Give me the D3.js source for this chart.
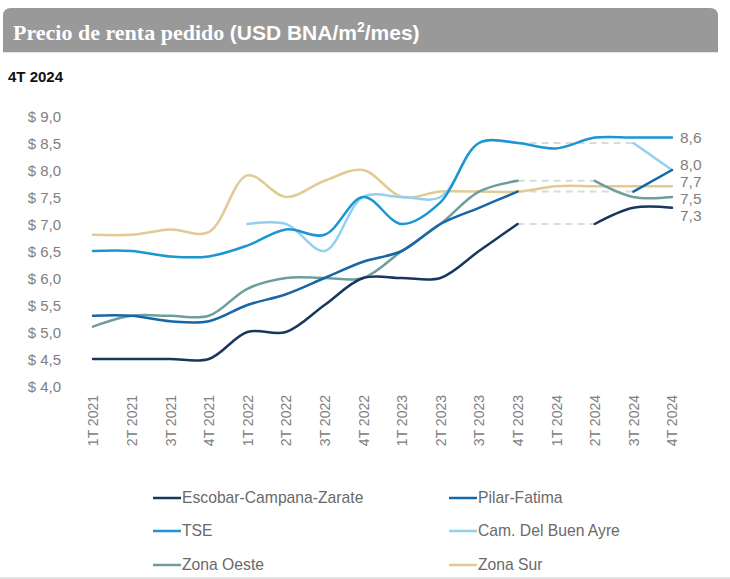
<!DOCTYPE html>
<html><head><meta charset="utf-8">
<script src="https://cdn.jsdelivr.net/npm/d3@7"></script>
<style>
body{margin:0;background:#fff;}
svg{display:block;font-family:"Liberation Sans",Arial,sans-serif;}
</style></head>
<body>
<svg id="chart" width="730" height="579"></svg>
<script>
const categories = ["1T 2021","2T 2021","3T 2021","4T 2021","1T 2022","2T 2022","3T 2022","4T 2022","1T 2023","2T 2023","3T 2023","4T 2023","1T 2024","2T 2024","3T 2024","4T 2024"];
const seriesNames = ["Escobar-Campana-Zarate","Pilar-Fatima","TSE","Cam. Del Buen Ayre","Zona Oeste","Zona Sur"];
const escobar = [4.5,4.5,4.5,4.5,5.0,5.0,5.5,6.0,6.0,6.0,6.5,7.0,null,7.0,7.3,7.3];
const pilar   = [5.3,5.3,5.2,5.2,5.5,5.7,6.0,6.3,6.5,7.0,7.3,7.6,null,null,7.6,8.0];
const tse     = [6.5,6.5,6.4,6.4,6.6,6.9,6.8,7.5,7.0,7.4,8.5,8.5,8.4,8.6,8.6,8.6];
const buenAyre= [null,null,null,null,7.0,7.0,6.5,7.5,7.5,7.5,8.5,8.5,null,null,8.5,8.0];
const oeste   = [5.1,5.3,5.3,5.3,5.8,6.0,6.0,6.0,6.5,7.0,7.6,7.8,null,7.8,7.5,7.5];
const sur     = [6.8,6.8,6.9,6.85,7.9,7.5,7.8,8.0,7.5,7.6,7.6,7.6,7.7,7.7,7.7,7.7];
const colors  = ["#17375e","#1766a8","#1b96d2","#92d0ef","#6c9f9c","#e2cb93"];
const yTicks  = [4.0,4.5,5.0,5.5,6.0,6.5,7.0,7.5,8.0,8.5,9.0];
const endLabelValues = [8.6,8.0,7.7,7.5,7.3];

const svg = d3.select("#chart");
const allSeries = [escobar,pilar,tse,buenAyre,oeste,sur];

// Title bar
svg.append("path")
  .attr("d","M3,52 L3,16 Q3,8 11,8 L710,8 Q718,8 718,16 L718,52 Z")
  .attr("fill","#999999");
svg.append("line").attr("x1",3).attr("x2",718).attr("y1",52.5).attr("y2",52.5).attr("stroke","#e6e6e6");
const title = svg.append("text").attr("x",13).attr("y",40).attr("fill","#fff");
title.append("tspan").attr("font-family","'Liberation Serif','Times New Roman',serif").attr("font-weight","bold").attr("font-size",22).text("Precio de renta pedido ");
title.append("tspan").attr("font-family","'Liberation Sans',Arial,sans-serif").attr("font-weight","bold").attr("font-size",21).text("(USD BNA/m");
title.append("tspan").attr("font-family","'Liberation Sans',Arial,sans-serif").attr("font-weight","bold").attr("font-size",14).attr("dy",-8).text("2");
title.append("tspan").attr("font-family","'Liberation Sans',Arial,sans-serif").attr("font-weight","bold").attr("font-size",21).attr("dy",8).text("/mes)");

svg.append("text").attr("x",8).attr("y",82).attr("font-size",15).attr("font-weight","bold").attr("fill","#111").text("4T 2024");

// Scales
const x = d3.scalePoint().domain(categories).range([93,672]);
const y = d3.scaleLinear().domain([4,9]).range([386,116]);

// Y axis
const yAxis = svg.append("g").attr("transform","translate(61,0)")
  .call(d3.axisLeft(y).tickValues(yTicks).tickSize(0).tickPadding(0)
    .tickFormat(d => "$ " + d.toFixed(1).replace(".",",")));
yAxis.select(".domain").remove();
yAxis.selectAll("text").attr("font-size",15).attr("fill","#808080").attr("font-family","'Liberation Sans',Arial,sans-serif").attr("dy","0.35em");

// X axis
const xAxis = svg.append("g").attr("transform","translate(0,393)")
  .call(d3.axisBottom(x).tickSize(0).tickPadding(0));
xAxis.select(".domain").remove();
xAxis.selectAll("text")
  .attr("font-size",14).attr("fill","#808080").attr("font-family","'Liberation Sans',Arial,sans-serif")
  .attr("text-anchor","end").attr("transform","rotate(-90)").attr("x",-2).attr("y",0).attr("dy","0.35em");

// Lines
const curve = d3.curveCatmullRom.alpha(0.5);
const idx = d3.range(categories.length);
const gapLine = d3.line().curve(d3.curveMonotoneX)
  .x(d => x(categories[d.i])).y(d => y(d.v));

// dashed gap connectors
allSeries.forEach((s,k) => {
  const pts = idx.map(i => ({i, v:s[i]}));
  const first = pts.findIndex(p=>p.v!=null);
  for (let j=first+1;j<pts.length;j++){
    if (pts[j].v==null && pts[j-1].v!=null){
      let e=j; while(e<pts.length && pts[e].v==null) e++;
      if (e<pts.length){
        svg.append("path").datum([pts[j-1], pts[e]]).attr("d",gapLine)
          .attr("fill","none").attr("stroke","#dadada").attr("stroke-width",2)
          .attr("stroke-dasharray","7,5");
      }
    }
  }
});

const drawOrder = [5,4,3,2,1,0];
drawOrder.forEach(k => {
  const s = allSeries[k];
  const pts = idx.map(i => ({i, v:s[i]}));
  svg.append("path").datum(pts)
    .attr("d", d3.line().curve(curve).defined(d=>d.v!=null).x(d=>x(categories[d.i])).y(d=>y(d.v)))
    .attr("fill","none").attr("stroke",colors[k]).attr("stroke-width",2.5)
    .attr("stroke-linecap","round");
});

// End labels with collision relaxation
const labs = endLabelValues.map(v => ({v, y:y(v)}));
const minGap = 17;
for (let it=0; it<300; it++){
  labs.sort((a,b)=>a.y-b.y);
  for (let j=1;j<labs.length;j++){
    const gap = labs[j].y - labs[j-1].y;
    if (gap < minGap){ const d=(minGap-gap)/2; labs[j].y+=d; labs[j-1].y-=d; }
  }
}
svg.append("g").selectAll("text").data(labs).join("text")
  .attr("x",680).attr("y",d=>d.y).attr("dy","0.35em")
  .attr("font-size",15.5).attr("fill","#7f7f7f")
  .text(d=>d.v.toFixed(1).replace(".",","));

// Legend
const legX = [153,449], legY = [498,531,565];
const leg = svg.append("g");
seriesNames.forEach((n,k) => {
  const lx = legX[k%2], ly = legY[Math.floor(k/2)];
  leg.append("line").attr("x1",lx).attr("x2",lx+28).attr("y1",ly).attr("y2",ly)
    .attr("stroke",colors[k]).attr("stroke-width",2.5);
  leg.append("text").attr("x",lx+29).attr("y",ly).attr("dy","0.35em")
    .attr("font-size",15.7).attr("fill","#6a6a6a").text(n);
});
svg.append("line").attr("x1",0).attr("x2",730).attr("y1",578).attr("y2",578).attr("stroke","#e3e3e3").attr("stroke-width",2);
</script>
</body></html>
